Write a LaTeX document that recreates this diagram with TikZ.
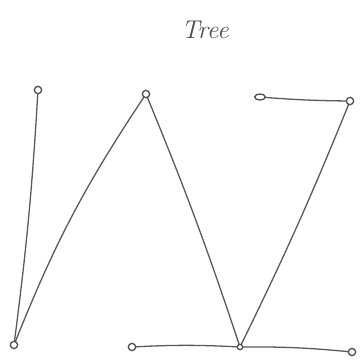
\documentclass[tikz,border=0pt]{standalone}
\usetikzlibrary{shapes.geometric}
\begin{document}
\begin{tikzpicture}[x=0.03cm,y=-0.03cm,
  vert/.style={circle,draw=black!70,line width=1.1pt,inner sep=0pt,minimum size=0.22cm,fill=white},
  edge/.style={draw=black!65,line width=1.1pt,line cap=round}]
\useasboundingbox (0,0) rectangle (360,362);
\node[font=\fontsize{22}{26}\selectfont\itshape,text=black!70] (title) at (205,30) {Tree};
\coordinate (pA) at (38,90);
\coordinate (pB) at (146,94);
\coordinate (pC) at (260,97);
\coordinate (pD) at (350,101);
\coordinate (pE) at (14,345);
\coordinate (pF) at (132,347);
\coordinate (pG) at (240,347);
\coordinate (pH) at (352,352);
\draw[edge] (pA) to[bend left=2] (pE);
\draw[edge] (pE) to[bend left=6] (pB);
\draw[edge] (pB) to[bend left=2] (pG);
\draw[edge] (pG) to[bend right=2] (pD);
\draw[edge] (pC) to[bend right=2] (pD);
\draw[edge] (pF) to[bend left=3] (pG);
\draw[edge] (pG) to[bend left=3] (pH);
\node[vert] (A) at (pA) {};
\node[vert] (B) at (pB) {};
\node[vert,ellipse,minimum width=0.32cm,minimum height=0.18cm] (C) at (pC) {};
\node[vert] (D) at (pD) {};
\node[vert] (E) at (pE) {};
\node[vert] (F) at (pF) {};
\node[vert,minimum size=0.16cm] (G) at (pG) {};
\node[vert] (H) at (pH) {};
\end{tikzpicture}
\end{document}
